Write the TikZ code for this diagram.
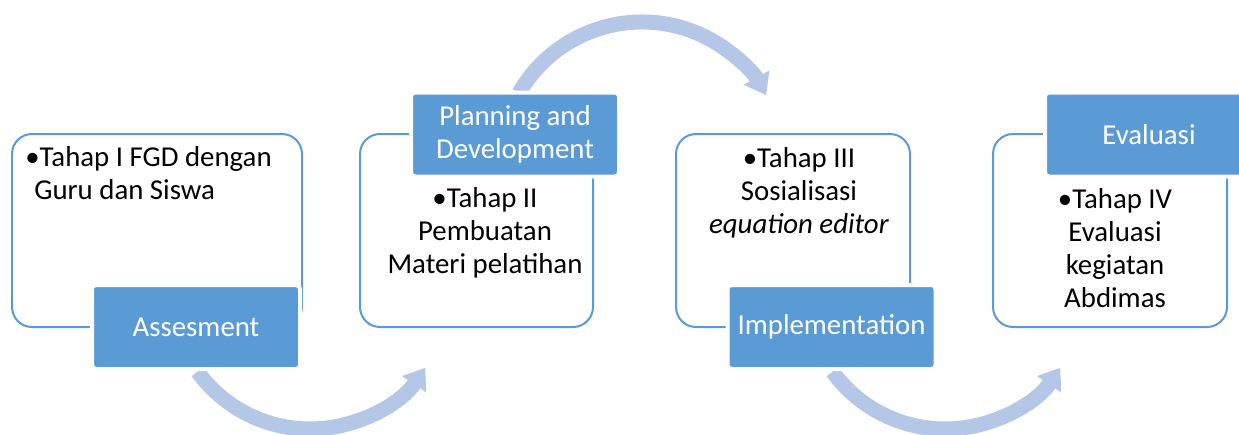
\documentclass[tikz,border=0pt]{standalone}
\usepackage{fontspec}
\setmainfont{Carlito}
\usetikzlibrary{arrows.meta}
\definecolor{boxblue}{RGB}{91,155,213}
\definecolor{arrowblue}{RGB}{180,199,231}
\begin{document}
\begin{tikzpicture}
   \tikzstyle{stage}=[draw=boxblue,line width=0.04cm,fill=white,rounded corners=0.4cm,minimum height=3.86cm]
   \tikzstyle{title}=[fill=boxblue,draw=white,line width=0.08cm,rounded corners=0.08cm,text=white,minimum width=4.16cm,minimum height=1.68cm,align=center]
   \tikzstyle{detail}=[inner sep=0pt,align=center]
   \tikzstyle{arrow}=[draw=arrowblue,line width=0.3cm,-{Triangle[length=0.4cm,width=0.56cm]}]
   \fontsize{16.4pt}{18.8pt}\selectfont
   \useasboundingbox (0,0) rectangle (24.78,8.68);
   % arc centres of the curved arrows
   \coordinate (c1) at (6.2,2.88) ;
   \coordinate (c2) at (12.84,5.4) ;
   \coordinate (c3) at (18.9,2.88) ;
   \path [arrow] ([shift={(216:2.78)}]c1) arc[start angle=216,end angle=326,radius=2.78] ;
   \path [arrow] ([shift={(150:2.84)}]c2) arc[start angle=150,end angle=29,radius=2.84] ;
   \path [arrow] ([shift={(216:2.78)}]c3) arc[start angle=216,end angle=326,radius=2.78] ;
   \node (assess) [stage,minimum width=5.8cm] at (3.14,4.07) {} ;
   \node (plan) [stage,minimum width=4.66cm] at (9.53,4.07) {} ;
   \node (impl) [stage,minimum width=4.68cm] at (15.86,4.07) {} ;
   \node (eval) [stage,minimum width=4.68cm] at (22.2,4.07) {} ;
   \node (assesst) [title] at (3.92,2.14) {Assesment} ;
   \node (plant) [title] at (10.3,5.99) {Planning and\\Development} ;
   \node (implt) [title] at (16.63,2.14) {Implementation} ;
   \node (evalt) [title] at (22.98,5.99) {Evaluasi} ;
   \node (assessd) [detail,anchor=north west,align=left] at (0.5,5.76) {•Tahap I FGD dengan\\\hspace*{0.18cm}Guru dan Siswa} ;
   \node (pland) [detail] at (9.7,4.02) {•Tahap II\\Pembuatan\\Materi pelatihan} ;
   \node (impld) [detail] at (15.98,4.83) {•Tahap III\\Sosialisasi\\\textit{equation editor}} ;
   \node (evald) [detail] at (22.3,3.71) {•Tahap IV\\Evaluasi\\kegiatan\\Abdimas} ;
\end{tikzpicture}
\end{document}
